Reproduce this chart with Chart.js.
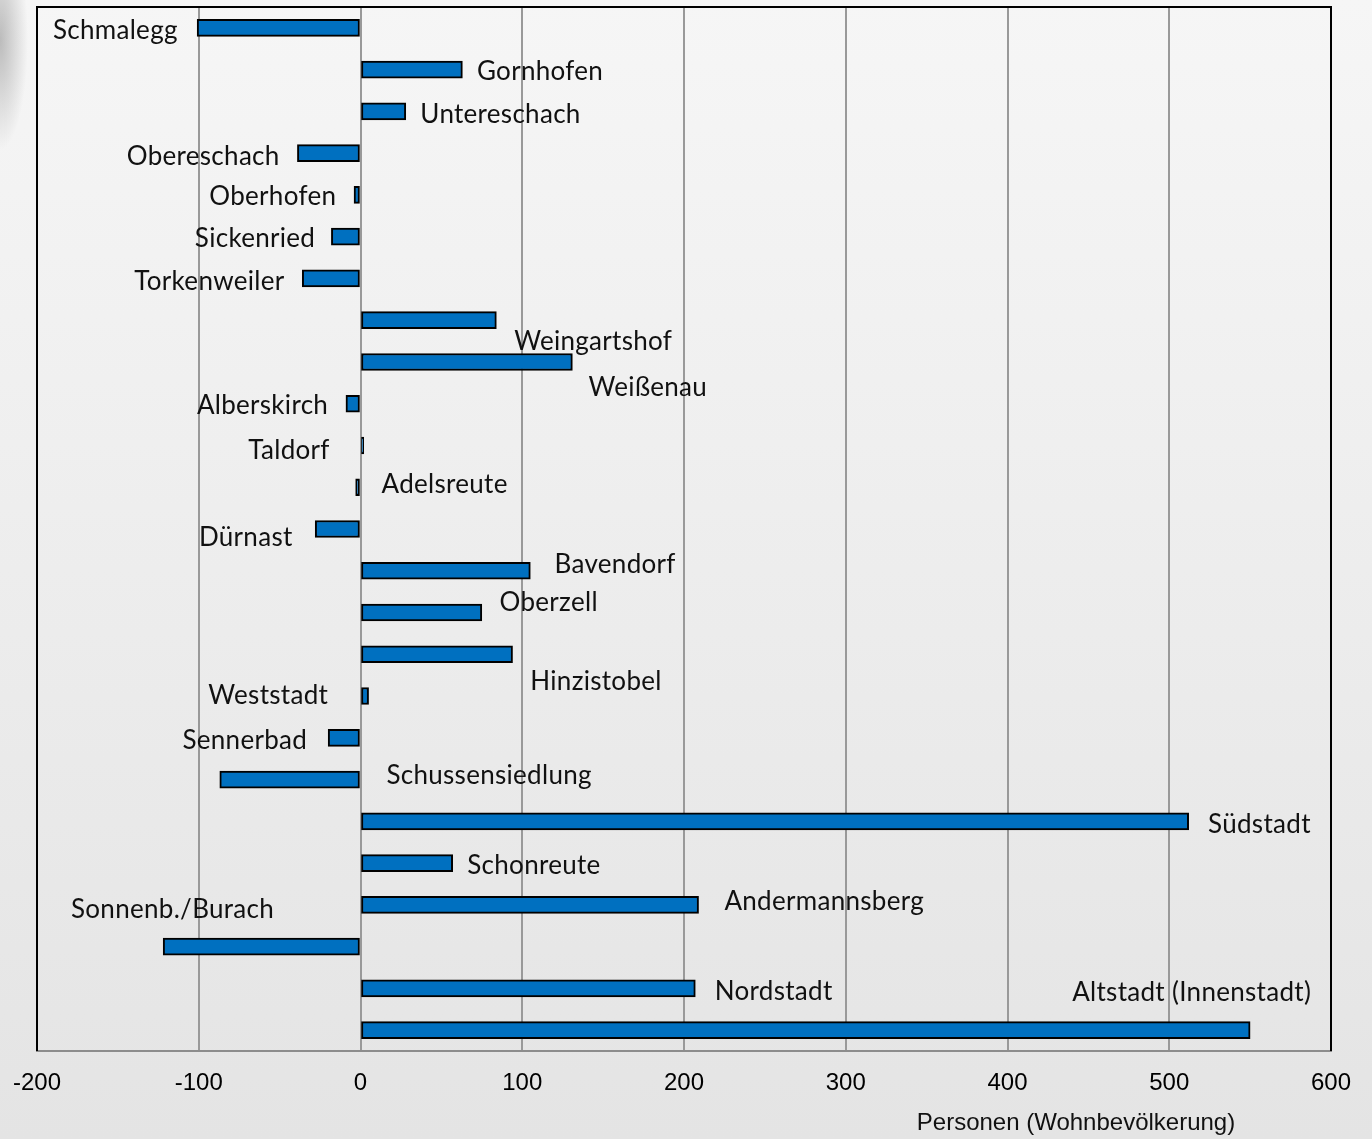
<!DOCTYPE html>
<html>
<head>
<meta charset="utf-8">
<script src="https://cdn.jsdelivr.net/npm/chart.js@4.4.1/dist/chart.umd.min.js"></script>
<style>
  html, body { margin: 0; padding: 0; }
  body {
    width: 1372px; height: 1139px; overflow: hidden;
    background:
      radial-gradient(ellipse 28px 110px at 0 40px, rgba(140,140,140,0.55), rgba(140,140,140,0)),
      linear-gradient(#f6f6f6, #e4e4e4);
  }
  #wrap { position: relative; width: 1372px; height: 1139px; }
</style>
</head>
<body>
<div id="wrap"><canvas id="chart"></canvas></div>
<script>
  const districts = [
    "Schmalegg", "Gornhofen", "Untereschach", "Obereschach", "Oberhofen",
    "Sickenried", "Torkenweiler", "Weingartshof", "Weißenau", "Alberskirch",
    "Taldorf", "Adelsreute", "Dürnast", "Bavendorf", "Oberzell",
    "Hinzistobel", "Weststadt", "Sennerbad", "Schussensiedlung", "Südstadt",
    "Schonreute", "Andermannsberg", "Sonnenb./Burach", "Nordstadt", "Altstadt (Innenstadt)"
  ];
  const changes = [
    -101, 63, 28, -39, -4,
    -18, -36, 84, 131, -9,
    2, -3, -28, 105, 75,
    94, 5, -20, -87, 512,
    57, 209, -122, 207, 550
  ];
  const xTicks = [-200, -100, 0, 100, 200, 300, 400, 500, 600];
  const axisTitle = "Personen (Wohnbevölkerung)";

  // where each name sits: [x in axis units, text align, vertical shift in px]
  const labelPlace = [
    [-113, "right", 3], [72, "left", 2], [37, "left", 3], [-50, "right", 3], [-15, "right", 2],
    [-28, "right", 2], [-47, "right", 3], [95, "left", 21], [141, "left", 26], [-20, "right", 2],
    [-19, "right", 5], [13, "left", -3], [-42, "right", 9], [120, "left", -6], [86, "left", -10],
    [105, "left", 27], [-20, "right", 0], [-33, "right", 3], [16, "left", -4], [524, "left", 3],
    [66, "left", 3], [225, "left", -3], [-179, "left", -37], [219, "left", 3], [440, "left", -38]
  ];

  const labelsAndFrame = {
    id: "labelsAndFrame",
    afterDatasetsDraw(chart) {
      const { ctx, chartArea: a, scales } = chart;
      ctx.save();
      ctx.strokeStyle = "#000";
      ctx.lineWidth = 2;
      ctx.beginPath();
      ctx.moveTo(a.left, a.bottom);
      ctx.lineTo(a.left, a.top);
      ctx.lineTo(a.right, a.top);
      ctx.lineTo(a.right, a.bottom);
      ctx.stroke();

      ctx.fillStyle = "#111";
      ctx.font = "26px Lato";
      ctx.letterSpacing = "0.3px";
      ctx.textBaseline = "middle";
      districts.forEach((name, i) => {
        const [xv, align, dy] = labelPlace[i];
        ctx.textAlign = align;
        ctx.fillText(name, scales.x.getPixelForValue(xv), scales.y.getPixelForValue(i) + dy);
      });

      ctx.font = "24px 'Liberation Sans'";
      ctx.letterSpacing = "0px";
      ctx.textAlign = "center";
      ctx.fillText(axisTitle, 1076, 1123);
      ctx.restore();
    }
  };

  new Chart(document.getElementById("chart"), {
    type: "bar",
    data: {
      labels: districts,
      datasets: [{
        data: changes,
        backgroundColor: "#0070C0",
        borderColor: "#000",
        borderWidth: 2,
        borderSkipped: false,
        barThickness: 17
      }]
    },
    options: {
      indexAxis: "y",
      responsive: true,
      maintainAspectRatio: false,
      animation: false,
      layout: { padding: { left: 37, right: 41, top: 7, bottom: 0 } },
      plugins: { legend: { display: false }, tooltip: { enabled: false } },
      scales: {
        x: {
          min: -200,
          max: 600,
          afterBuildTicks: (s) => { s.ticks = xTicks.map((v) => ({ value: v })); },
          afterFit: (s) => { s.height = 88; s.paddingLeft = 0; s.paddingRight = 0; },
          ticks: {
            color: "#000",
            padding: 18,
            font: { family: "'Liberation Sans'", size: 24 }
          },
          grid: { color: "#999", lineWidth: 2, drawTicks: false },
          border: { color: "#8c8c8c", width: 2 }
        },
        y: { display: false }
      }
    },
    plugins: [labelsAndFrame]
  });
</script>
</body>
</html>
